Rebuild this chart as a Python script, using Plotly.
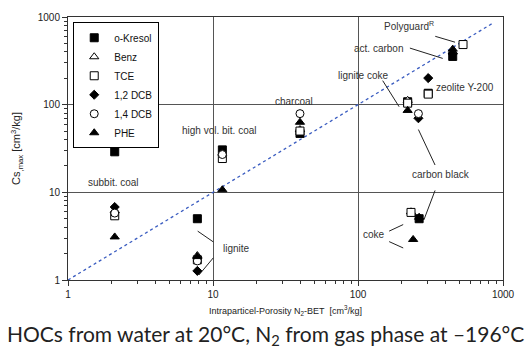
import numpy as np
import plotly.graph_objects as go

# ---------------- data ----------------
series_names = ["o-Kresol", "Benz", "TCE", "1,2 DCB", "1,4 DCB", "PHE"]

kresol_x = [2.1, 7.8, 11.6, 39.8, 220, 305, 450, 264]
kresol_y = [29, 5.0, 30.5, 47, 108, 135, 355, 5.0]
benz_x = [2.1, 7.8, 11.6, 39.8, 220, 232, 450]
benz_y = [6.2, 1.9, 28, 52, 112, 6.0, 400]
tce_x = [2.1, 7.8, 11.6, 39.8, 220, 232, 530, 305]
tce_y = [5.4, 1.7, 24.3, 50, 104, 5.9, 485, 132]
dcb12_x = [2.1, 7.8, 261, 305, 450]
dcb12_y = [6.8, 1.27, 70, 201, 380]
dcb14_x = [2.1, 7.8, 11.6, 39.8, 261]
dcb14_y = [5.8, 1.65, 27, 79, 79]
phe_x = [2.1, 7.8, 11.6, 39.8, 220, 450, 240, 264]
phe_y = [3.1, 1.85, 10.7, 63, 86, 430, 2.9, 5.2]

diag_x = [1, 850]
diag_y = [1, 850]

major_ticks = [1, 10, 100, 1000]
tick_labels = ["1", "10", "100", "1000"]

# sorbent labels: (text, x, y, anchor)
labels = [
    ("subbit. coal", 1.33, 13.0, "left"),
    ("lignite", 11.4, 2.27, "left"),
    ("high vol. bit. coal", 11.1, 50.8, "center"),
    ("charcoal", 36.2, 110, "center"),
    ("lignite coke", 109, 215, "center"),
    ("Polyguard<sup>R</sup>", 225, 790, "center"),
    ("act. carbon", 138, 435, "center"),
    ("zeolite Y-200", 547, 158, "center"),
    ("carbon black", 371, 15.9, "center"),
    ("coke", 129, 3.32, "center"),
]

# leader lines (x0, y0, x1, y1)
leaders = [
    (7.84, 3.61, 10.05, 2.72),
    (8.0, 1.14, 10.05, 1.79),
    (148, 188, 192, 94.8),
    (341, 602, 467, 516),
    (228, 442, 384, 337),
    (261, 52, 340, 20.5),
    (340, 10.5, 285, 4.87),
    (164, 3.61, 205, 4.29),
    (164, 2.74, 205, 2.32),
]

# ---------------- figure ----------------
fig = go.Figure()

fig.add_trace(go.Scatter(x=diag_x, y=diag_y, mode="lines",
                         line=dict(color="#3a5cc0", width=1.3, dash="dot"),
                         showlegend=False, hoverinfo="skip"))

lx, ly = [], []
for x0, y0, x1, y1 in leaders:
    lx += [x0, x1, None]
    ly += [y0, y1, None]
fig.add_trace(go.Scatter(x=lx, y=ly, mode="lines",
                         line=dict(color="#222", width=1),
                         showlegend=False, hoverinfo="skip"))

styles = [
    ("square", "black", 8),
    ("triangle-up", "white", 8),
    ("square", "white", 8),
    ("diamond", "black", 7),
    ("circle", "white", 8),
    ("triangle-up", "black", 8),
]
xs = [kresol_x, benz_x, tce_x, dcb12_x, dcb14_x, phe_x]
ys = [kresol_y, benz_y, tce_y, dcb12_y, dcb14_y, phe_y]

for name, (sym, fill, size), x, y in zip(series_names, styles, xs, ys):
    fig.add_trace(go.Scatter(
        x=x, y=y, mode="markers", name=name,
        marker=dict(symbol=sym, color=fill, size=size,
                    line=dict(color="black", width=1)),
    ))

for text, x, y, anchor in labels:
    fig.add_annotation(x=np.log10(x), y=np.log10(y), text=text,
                       showarrow=False, xanchor=anchor, yanchor="middle",
                       font=dict(family="Arial, Liberation Sans", size=10, color="#333"))

fig.add_annotation(xref="paper", yref="paper", x=0.453, y=-0.21,
                   text="HOCs from water at 20°C, N<sub>2</sub> from gas phase at \u2013196°C",
                   showarrow=False, xanchor="center", yanchor="middle",
                   font=dict(family="Lato", size=21, color="#222"))

minor_vals = [m * 10 ** e for e in range(0, 3) for m in range(2, 10)]

axis_common = dict(
    type="log", range=[0, 3],
    tickvals=major_ticks, ticktext=tick_labels,
    ticks="outside", ticklen=5, tickcolor="#333",
    showline=True, linecolor="#333", linewidth=1, mirror=True,
    showgrid=True, gridcolor="#555", gridwidth=1,
    zeroline=False,
    tickfont=dict(family="Arial, Liberation Sans", size=10, color="#222"),
    minor=dict(tickvals=minor_vals, ticks="outside", ticklen=3,
               tickcolor="#333", showgrid=False),
)

fig.update_xaxes(**axis_common,
                 title=dict(text="Intraparticel-Porosity N<sub>2</sub>-BET  [cm<sup>3</sup>/kg]",
                            font=dict(family="Arial, Liberation Sans", size=9, color="#222"),
                            standoff=8))
fig.update_yaxes(**axis_common,
                 title=dict(text="Cs<sub>,max</sub> [cm<sup>3</sup>/kg]",
                            font=dict(family="Arial, Liberation Sans", size=11, color="#222"),
                            standoff=14))

fig.update_layout(
    width=531, height=360,
    margin=dict(l=68, r=28, t=11, b=80),
    plot_bgcolor="white", paper_bgcolor="white",
    showlegend=True,
    legend=dict(x=0.012, y=0.98, xanchor="left", yanchor="top",
                bordercolor="black", borderwidth=1, bgcolor="white",
                font=dict(family="Arial, Liberation Sans", size=10, color="#111"),
                itemwidth=30, tracegroupgap=0),
)

fig.write_html("out.html")
